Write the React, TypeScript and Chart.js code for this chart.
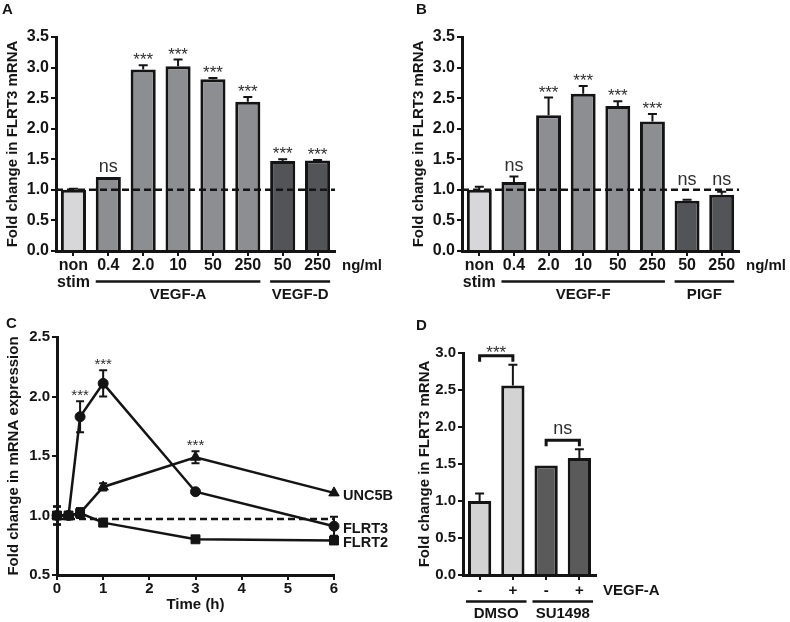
import React, { useEffect, useRef } from "react";
import { Chart, registerables } from "chart.js";

Chart.register(...registerables);

const FONT = "'Liberation Sans', Arial, Helvetica, sans-serif";
const INK = "#141414";
const STAR = "#2e2e2e";
const LIGHT = "#d7d7d9";
const MID = "#8d8e91";
const DARK = "#535457";
const LIGHT_D = "#d3d3d4";
const DARK_D = "#5a5a5b";

// ---------- Panel A ----------
const catsA: (string | string[])[] = [["non", "stim"], "0.4", "2.0", "10", "50", "250", "50", "250"];
const valuesA = [1.0, 1.21, 2.97, 3.02, 2.81, 2.44, 1.47, 1.48];
const errA = [0.02, 0.0, 0.07, 0.11, 0.02, 0.08, 0.03, 0.01];
const sigA = ["", "ns", "***", "***", "***", "***", "***", "***"];
const colorsA = [LIGHT, MID, MID, MID, MID, MID, DARK, DARK];
const groupLabelsA = ["VEGF-A", "VEGF-D"];
const groupStartA = [1, 6];
const groupEndA = [5, 7];
const unitA = "ng/ml";

// ---------- Panel B ----------
const catsB: (string | string[])[] = [["non", "stim"], "0.4", "2.0", "10", "50", "250", "50", "250"];
const valuesB = [1.0, 1.13, 2.22, 2.57, 2.37, 2.12, 0.82, 0.92];
const errB = [0.05, 0.09, 0.29, 0.13, 0.08, 0.12, 0.02, 0.05];
const sigB = ["", "ns", "***", "***", "***", "***", "ns", "ns"];
const colorsB = [LIGHT, MID, MID, MID, MID, MID, DARK, DARK];
const groupLabelsB = ["VEGF-F", "PIGF"];
const groupStartB = [1, 6];
const groupEndB = [5, 7];
const unitB = "ng/ml";

// ---------- Panel C ----------
const timesC = [0, 0.25, 0.5, 1, 3, 6];
const unc5bC = [1.0, 1.0, 1.02, 1.24, 1.49, 1.19];
const errUnc5bC = [0.075, 0.03, 0.04, 0.03, 0.05, 0.01];
const flrt3C = [1.0, 1.0, 1.83, 2.11, 1.2, 0.91];
const errFlrt3C = [0.075, 0.03, 0.13, 0.11, 0.01, 0.08];
const flrt2C = [1.0, 1.0, 1.02, 0.94, 0.8, 0.79];
const errFlrt2C = [0.075, 0.03, 0.04, 0.01, 0.01, 0.03];
const seriesNamesC = ["UNC5B", "FLRT3", "FLRT2"];
const starSeriesC = [1, 1, 0];
const starPointC = [2, 3, 4];
const baselineC = 0.97;

// ---------- Panel D ----------
const catsD = ["-", "+", "-", "+"];
const valuesD = [1.0, 2.56, 1.48, 1.58];
const errD = [0.1, 0.28, 0.0, 0.12];
const colorsD = [LIGHT_D, LIGHT_D, DARK_D, DARK_D];
const groupLabelsD = ["DMSO", "SU1498"];
const groupStartD = [0, 2];
const groupEndD = [1, 3];
const bracketFromD = [0, 2];
const bracketToD = [1, 3];
const bracketLabelD = ["***", "ns"];
const unitD = "VEGF-A";

type BarPanel = {
  letter: string;
  letterX: number;
  letterY: number;
  cats: (string | string[])[];
  values: number[];
  err: number[];
  sig: string[];
  colors: string[];
  groupLabels: string[];
  groupStart: number[];
  groupEnd: number[];
  unit: string;
  yMax: number;
  baseline: number | null;
  brackets: { from: number[]; to: number[]; label: string[] } | null;
  title: string;
  titlePad: number;
  area: { left: number; right: number; top: number; bottom: number };
  width: number;
  height: number;
  barPct: number;
  groupLineOffset: number;
  groupLabelOffset: number;
  groupExtra: number;
  tickSize: number;
  tickLineHeight: number;
  tickPad: number;
};

const panelA: BarPanel = {
  letter: "A", letterX: 2, letterY: 13.5,
  cats: catsA, values: valuesA, err: errA, sig: sigA, colors: colorsA,
  groupLabels: groupLabelsA, groupStart: groupStartA, groupEnd: groupEndA, unit: unitA,
  yMax: 3.5, baseline: 1.0, brackets: null,
  title: "Fold change in FLRT3 mRNA", titlePad: 4,
  area: { left: 56, right: 335, top: 37, bottom: 251 }, width: 395, height: 305,
  barPct: 0.72, groupLineOffset: 30.5, groupLabelOffset: 13, groupExtra: 0,
  tickSize: 16, tickLineHeight: 1.05, tickPad: 1,
};

const panelB: BarPanel = {
  letter: "B", letterX: 21, letterY: 13.5,
  cats: catsB, values: valuesB, err: errB, sig: sigB, colors: colorsB,
  groupLabels: groupLabelsB, groupStart: groupStartB, groupEnd: groupEndB, unit: unitB,
  yMax: 3.5, baseline: 1.0, brackets: null,
  title: "Fold change in FLRT3 mRNA", titlePad: 15,
  area: { left: 67, right: 344, top: 37, bottom: 251 }, width: 395, height: 305,
  barPct: 0.72, groupLineOffset: 30.5, groupLabelOffset: 13, groupExtra: 0,
  tickSize: 16, tickLineHeight: 1.05, tickPad: 1,
};

const panelD: BarPanel = {
  letter: "D", letterX: 21, letterY: 25,
  cats: catsD, values: valuesD, err: errD, sig: ["", "", "", ""], colors: colorsD,
  groupLabels: groupLabelsD, groupStart: groupStartD, groupEnd: groupEndD, unit: unitD,
  yMax: 3.0, baseline: null,
  brackets: { from: bracketFromD, to: bracketToD, label: bracketLabelD },
  title: "Fold change in FLRT3 mRNA", titlePad: 21,
  area: { left: 68, right: 201, top: 48, bottom: 270 }, width: 395, height: 317,
  barPct: 0.7, groupLineOffset: 26.5, groupLabelOffset: 12, groupExtra: 2,
  tickSize: 15, tickLineHeight: 1.15, tickPad: 2,
};

const TICK_LEN = 5;
const TITLE_FONT = { family: FONT, size: 15, weight: "bold" as const };

function axisGrid() {
  return {
    display: true,
    drawOnChartArea: false,
    drawTicks: true,
    tickLength: TICK_LEN,
    tickWidth: 2,
    tickColor: INK,
    lineWidth: 2,
    color: INK,
    offset: false,
  };
}

function drawSig(ctx: CanvasRenderingContext2D, text: string, x: number, top: number) {
  if (!text) return;
  ctx.textAlign = "center";
  ctx.textBaseline = "alphabetic";
  ctx.fillStyle = STAR;
  if (text === "ns") {
    ctx.font = `18px ${FONT}`;
    ctx.fillText(text, x, top - 5);
  } else {
    ctx.font = `17px ${FONT}`;
    ctx.fillText(text, x, top);
  }
}

function barPlugin(p: BarPanel) {
  return {
    id: "barAnnot" + p.letter,
    afterDatasetsDraw(chart: any) {
      const { ctx, chartArea: ca } = chart;
      const ys = chart.scales.y;
      const meta = chart.getDatasetMeta(0);
      ctx.save();
      ctx.strokeStyle = INK;
      ctx.fillStyle = INK;
      // baseline
      let yb = Infinity;
      if (p.baseline !== null) {
        yb = ys.getPixelForValue(p.baseline);
        ctx.setLineDash([7, 4]);
        ctx.lineWidth = 2.5;
        ctx.beginPath();
        ctx.moveTo(ca.left, yb);
        ctx.lineTo(ca.right, yb);
        ctx.stroke();
        ctx.setLineDash([]);
      }
      // error bars
      const tops: number[] = [];
      meta.data.forEach((bar: any, i: number) => {
        const v = p.values[i];
        const e = p.err[i];
        const yv = ys.getPixelForValue(v);
        const ye = ys.getPixelForValue(v + e);
        tops.push(ye);
        if (e > 0) {
          ctx.strokeStyle = INK;
          ctx.lineWidth = 2;
          ctx.beginPath();
          ctx.moveTo(bar.x, yv);
          ctx.lineTo(bar.x, ye);
          ctx.moveTo(bar.x - 4.5, ye);
          ctx.lineTo(bar.x + 4.5, ye);
          ctx.stroke();
        }
        drawSig(ctx, p.sig[i], bar.x, Math.min(ye, yb));
      });
      // brackets
      if (p.brackets) {
        const br = p.brackets;
        br.label.forEach((lab, k) => {
          const a = meta.data[br.from[k]];
          const b = meta.data[br.to[k]];
          const yl = Math.min(tops[br.from[k]], tops[br.to[k]]) - 9;
          ctx.strokeStyle = INK;
          ctx.lineWidth = 3;
          ctx.beginPath();
          ctx.moveTo(a.x, yl + 6);
          ctx.lineTo(a.x, yl);
          ctx.lineTo(b.x, yl);
          ctx.lineTo(b.x, yl + 6);
          ctx.stroke();
          ctx.textAlign = "center";
          ctx.textBaseline = "alphabetic";
          ctx.fillStyle = STAR;
          if (lab === "ns") {
            ctx.font = `18px ${FONT}`;
            ctx.fillText(lab, (a.x + b.x) / 2, yl - 6);
          } else {
            ctx.font = `17px ${FONT}`;
            ctx.fillText(lab, (a.x + b.x) / 2, yl + 2);
          }
        });
      }
      // group lines and labels
      ctx.fillStyle = INK;
      ctx.strokeStyle = INK;
      p.groupLabels.forEach((label, g) => {
        const b0 = meta.data[p.groupStart[g]];
        const b1 = meta.data[p.groupEnd[g]];
        const x0 = b0.x - b0.width / 2 - p.groupExtra;
        const x1 = b1.x + b1.width / 2 + p.groupExtra;
        const ly = ca.bottom + p.groupLineOffset;
        ctx.lineWidth = 2.5;
        ctx.beginPath();
        ctx.moveTo(x0, ly);
        ctx.lineTo(x1, ly);
        ctx.stroke();
        ctx.font = `bold 15px ${FONT}`;
        ctx.textAlign = "center";
        ctx.textBaseline = "middle";
        ctx.fillText(label, (x0 + x1) / 2, ly + p.groupLabelOffset);
      });
      // unit label (same line as tick labels)
      ctx.font = `bold 15px ${FONT}`;
      ctx.textAlign = "left";
      ctx.textBaseline = "middle";
      ctx.fillText(p.unit, ca.right + 7, ca.bottom + TICK_LEN + p.tickPad + (p.tickSize * p.tickLineHeight) / 2);
      // panel letter
      ctx.font = `bold 15px ${FONT}`;
      ctx.textBaseline = "alphabetic";
      ctx.fillText(p.letter, p.letterX, p.letterY);
      ctx.restore();
    },
  };
}

function makeBarChart(canvas: HTMLCanvasElement, p: BarPanel) {
  const tickFont = { family: FONT, size: p.tickSize, weight: "bold" as const, lineHeight: p.tickLineHeight };
  return new Chart(canvas, {
    type: "bar",
    data: {
      labels: p.cats as any,
      datasets: [
        {
          data: p.values,
          backgroundColor: p.colors,
          borderColor: INK,
          borderWidth: 3,
          borderSkipped: "start",
          barPercentage: p.barPct,
          categoryPercentage: 1,
        },
      ],
    },
    options: {
      responsive: false,
      animation: false,
      devicePixelRatio: 1,
      layout: { padding: { left: 0, top: p.area.top, right: p.width - p.area.right, bottom: 0 } },
      plugins: { legend: { display: false }, tooltip: { enabled: false } },
      scales: {
        x: {
          offset: true,
          grid: axisGrid() as any,
          border: { display: true, width: 3, color: INK },
          ticks: { autoSkip: false, maxRotation: 0, color: INK, font: tickFont, padding: p.tickPad },
          afterFit: (s: any) => {
            s.height = p.height - p.area.bottom;
          },
        },
        y: {
          min: 0,
          max: p.yMax,
          grid: axisGrid() as any,
          border: { display: true, width: 3, color: INK },
          ticks: {
            stepSize: 0.5,
            color: INK,
            font: tickFont,
            padding: 2,
            callback: (v: any) => Number(v).toFixed(1),
          },
          title: {
            display: true,
            text: p.title,
            color: INK,
            font: TITLE_FONT,
            padding: { top: p.titlePad, bottom: 0 },
          },
          afterFit: (s: any) => {
            s.width = p.area.left;
          },
        },
      },
    },
    plugins: [barPlugin(p) as any],
  });
}

const areaC = { left: 57, right: 334, top: 32, bottom: 270 };
const sizeC = { width: 420, height: 317 };
const TICK_FONT_C = { family: FONT, size: 15, weight: "bold" as const };

function makeLineChart(canvas: HTMLCanvasElement) {
  const seriesVals = [unc5bC, flrt3C, flrt2C];
  const seriesErr = [errUnc5bC, errFlrt3C, errFlrt2C];
  const styles = ["triangle", "circle", "rect"];
  const radii = [6, 5, 6.3];
  const plugin = {
    id: "lineAnnot",
    beforeDatasetsDraw(chart: any) {
      const { ctx } = chart;
      const xs = chart.scales.x;
      const ys = chart.scales.y;
      ctx.save();
      ctx.strokeStyle = INK;
      // dashed baseline
      const yb = ys.getPixelForValue(baselineC);
      ctx.setLineDash([7, 4]);
      ctx.lineWidth = 2.5;
      ctx.beginPath();
      ctx.moveTo(xs.getPixelForValue(0), yb);
      ctx.lineTo(xs.getPixelForValue(6), yb);
      ctx.stroke();
      ctx.setLineDash([]);
      // error bars
      ctx.lineWidth = 2;
      seriesVals.forEach((vals, s) => {
        vals.forEach((v, i) => {
          const e = seriesErr[s][i];
          if (e <= 0.015) return;
          const x = xs.getPixelForValue(timesC[i]);
          const y1 = ys.getPixelForValue(v + e);
          const y2 = ys.getPixelForValue(v - e);
          ctx.beginPath();
          ctx.moveTo(x, y1);
          ctx.lineTo(x, y2);
          ctx.moveTo(x - 4, y1);
          ctx.lineTo(x + 4, y1);
          ctx.moveTo(x - 4, y2);
          ctx.lineTo(x + 4, y2);
          ctx.stroke();
        });
      });
      ctx.restore();
    },
    afterDatasetsDraw(chart: any) {
      const { ctx } = chart;
      const xs = chart.scales.x;
      const ys = chart.scales.y;
      ctx.save();
      // stars
      starSeriesC.forEach((s, k) => {
        const i = starPointC[k];
        const v = seriesVals[s][i] + seriesErr[s][i];
        const x = xs.getPixelForValue(timesC[i]);
        const y = ys.getPixelForValue(v);
        ctx.font = `15px ${FONT}`;
        ctx.fillStyle = STAR;
        ctx.textAlign = "center";
        ctx.textBaseline = "alphabetic";
        ctx.fillText("***", x, y - 1);
      });
      // series labels
      ctx.fillStyle = INK;
      ctx.font = `bold 14.5px ${FONT}`;
      ctx.textAlign = "left";
      ctx.textBaseline = "middle";
      seriesNamesC.forEach((name, s) => {
        const vals = seriesVals[s];
        const last = vals[vals.length - 1];
        ctx.fillText(name, xs.getPixelForValue(timesC[timesC.length - 1]) + 9, ys.getPixelForValue(last) + 3);
      });
      // letter
      ctx.font = `bold 15px ${FONT}`;
      ctx.textBaseline = "alphabetic";
      ctx.fillText("C", 6, 23);
      ctx.restore();
    },
  };
  return new Chart(canvas, {
    type: "line",
    data: {
      datasets: seriesVals.map((vals, s) => ({
        label: seriesNamesC[s],
        data: timesC.map((t, i) => ({ x: t, y: vals[i] })),
        pointStyle: styles[s] as any,
        pointRadius: radii[s],
        pointBorderWidth: 1,
        borderColor: INK,
        backgroundColor: INK,
        pointBackgroundColor: INK,
        borderWidth: 2.5,
        tension: 0,
        clip: false as any,
      })),
    },
    options: {
      responsive: false,
      animation: false,
      devicePixelRatio: 1,
      layout: { padding: { left: 0, top: areaC.top, right: sizeC.width - areaC.right, bottom: 0 } },
      plugins: { legend: { display: false }, tooltip: { enabled: false } },
      scales: {
        x: {
          type: "linear",
          min: 0,
          max: 6,
          grid: axisGrid() as any,
          border: { display: true, width: 3, color: INK },
          ticks: { stepSize: 1, color: INK, font: TICK_FONT_C, padding: 0 },
          title: {
            display: true,
            text: "Time (h)",
            color: INK,
            font: TITLE_FONT,
            padding: { top: 0, bottom: 8 },
          },
          afterFit: (s: any) => {
            s.height = sizeC.height - areaC.bottom;
          },
        },
        y: {
          min: 0.5,
          max: 2.5,
          grid: axisGrid() as any,
          border: { display: true, width: 3, color: INK },
          ticks: {
            stepSize: 0.5,
            color: INK,
            font: TICK_FONT_C,
            padding: 2,
            callback: (v: any) => Number(v).toFixed(1),
          },
          title: {
            display: true,
            text: "Fold change in mRNA expression",
            color: INK,
            font: TITLE_FONT,
            padding: { top: 5, bottom: 0 },
          },
          afterFit: (s: any) => {
            s.width = areaC.left;
          },
        },
      },
    },
    plugins: [plugin as any],
  });
}

export default function App() {
  const aRef = useRef<HTMLCanvasElement>(null);
  const bRef = useRef<HTMLCanvasElement>(null);
  const cRef = useRef<HTMLCanvasElement>(null);
  const dRef = useRef<HTMLCanvasElement>(null);

  useEffect(() => {
    const charts = [
      makeBarChart(aRef.current!, panelA),
      makeBarChart(bRef.current!, panelB),
      makeLineChart(cRef.current!),
      makeBarChart(dRef.current!, panelD),
    ];
    return () => charts.forEach((c) => c.destroy());
  }, []);

  const cs = { position: "absolute" as const, display: "block" };
  return (
    <div style={{ position: "absolute", left: 0, top: 0, width: 790, height: 622, background: "#fff", overflow: "hidden" }}>
      <canvas ref={aRef} width={395} height={305} style={{ ...cs, left: 0, top: 0, width: 395, height: 305 }} />
      <canvas ref={bRef} width={395} height={305} style={{ ...cs, left: 395, top: 0, width: 395, height: 305 }} />
      <canvas ref={dRef} width={395} height={317} style={{ ...cs, left: 395, top: 305, width: 395, height: 317 }} />
      <canvas ref={cRef} width={420} height={317} style={{ ...cs, left: 0, top: 305, width: 420, height: 317 }} />
    </div>
  );
}
